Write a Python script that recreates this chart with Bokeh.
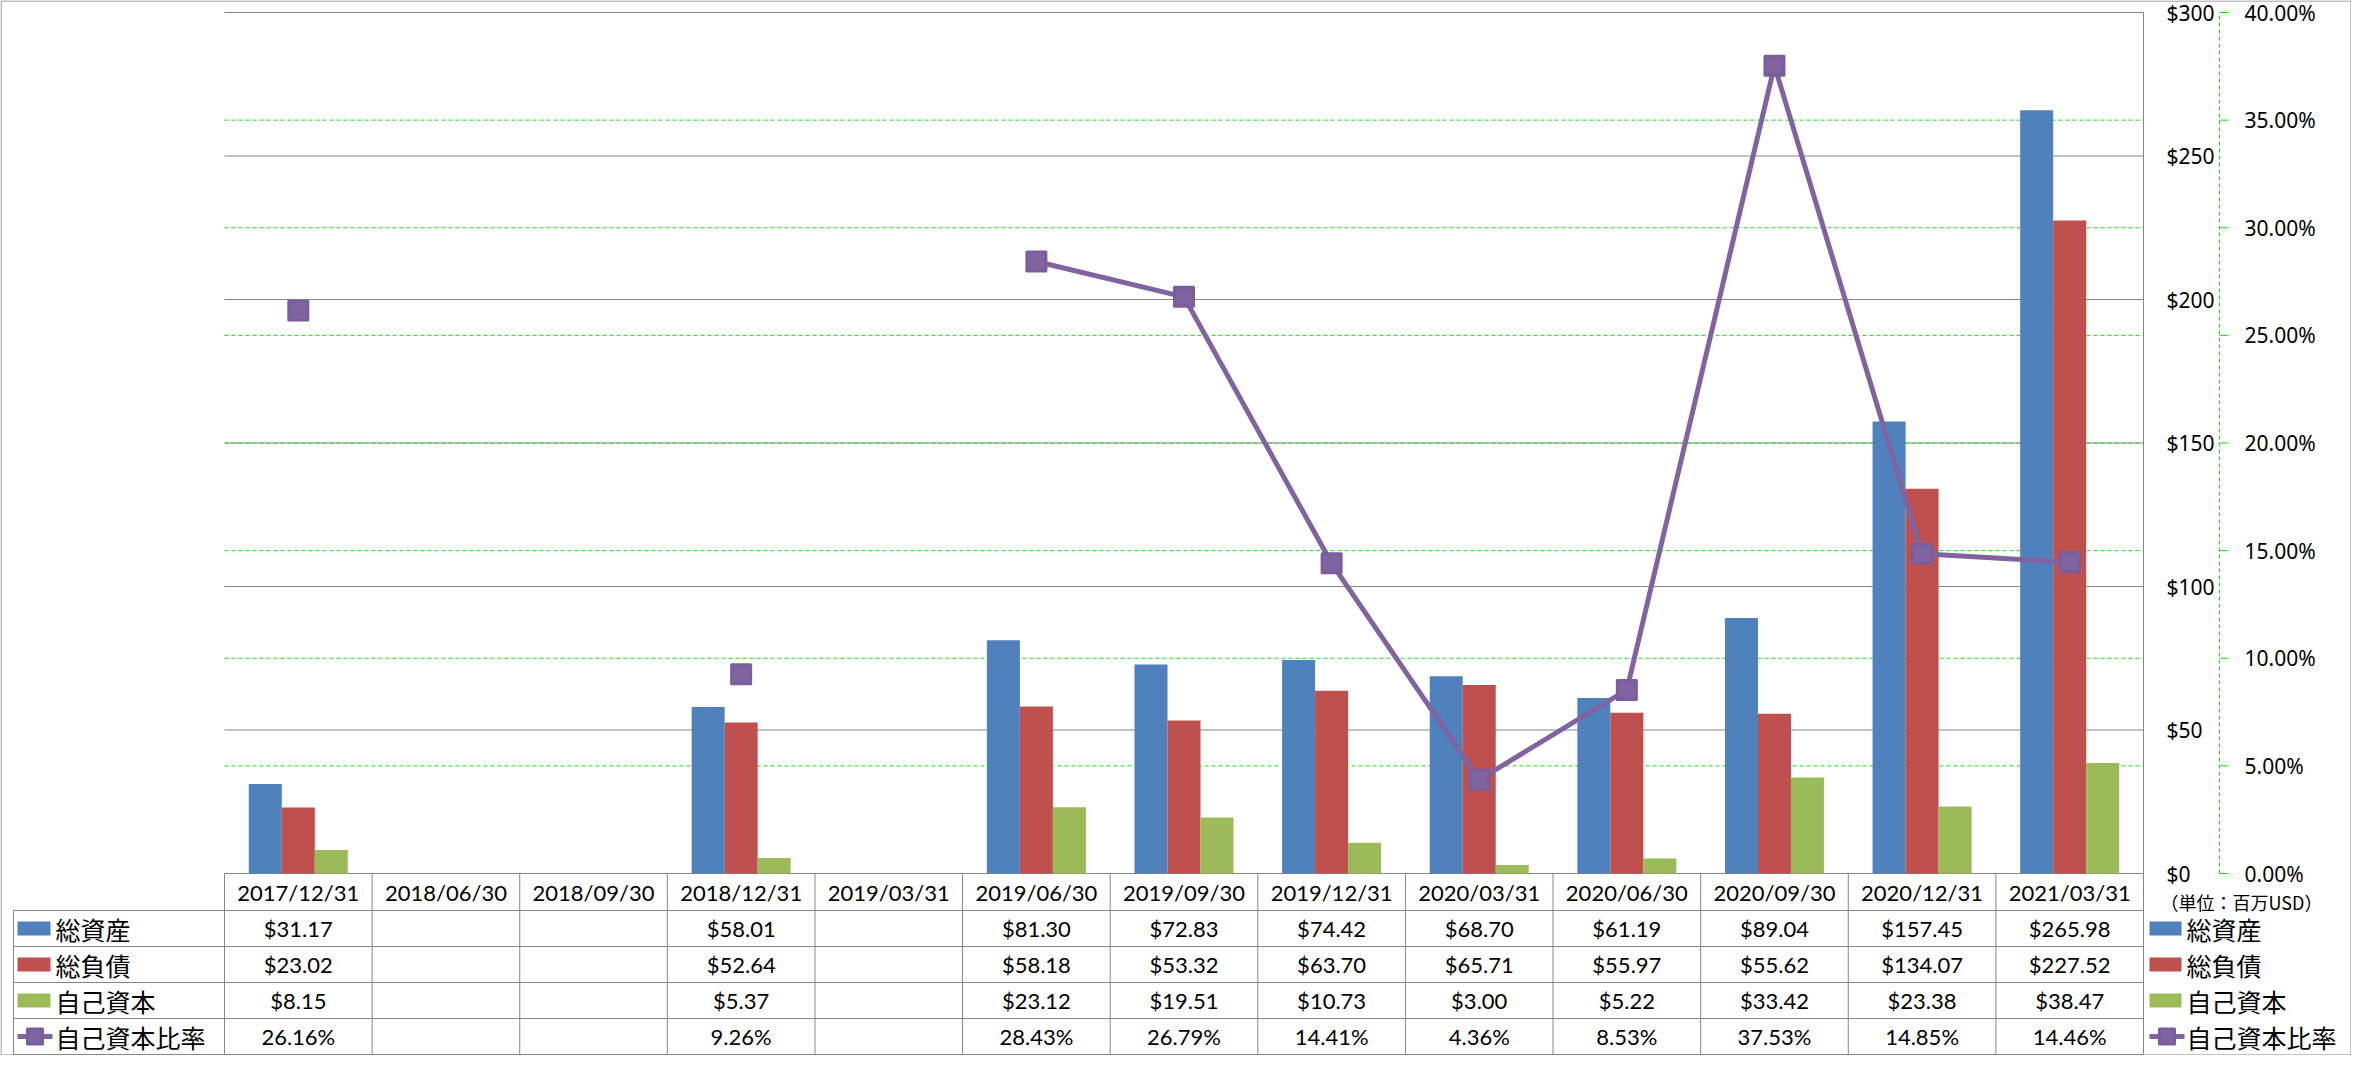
import numpy as np
from bokeh.plotting import figure
from bokeh.models import Range1d, ColumnDataSource
from bokeh.embed import file_html
from bokeh.resources import INLINE
from bokeh.core.properties import value

# ---------------- data ----------------
nan = float("nan")
dates = ["2017/12/31", "2018/06/30", "2018/09/30", "2018/12/31", "2019/03/31",
         "2019/06/30", "2019/09/30", "2019/12/31", "2020/03/31", "2020/06/30",
         "2020/09/30", "2020/12/31", "2021/03/31"]
total_assets = [31.17, nan, nan, 58.01, nan, 81.30, 72.83, 74.42, 68.70, 61.19, 89.04, 157.45, 265.98]
total_liabilities = [23.02, nan, nan, 52.64, nan, 58.18, 53.32, 63.70, 65.71, 55.97, 55.62, 134.07, 227.52]
equity = [8.15, nan, nan, 5.37, nan, 23.12, 19.51, 10.73, 3.00, 5.22, 33.42, 23.38, 38.47]
equity_ratio_pct = [26.16, nan, nan, 9.26, nan, 28.43, 26.79, 14.41, 4.36, 8.53, 37.53, 14.85, 14.46]
series_names = ["総資産", "総負債", "自己資本", "自己資本比率"]
usd_ticks = [0, 50, 100, 150, 200, 250, 300]
usd_tick_labels = ["$0", "$50", "$100", "$150", "$200", "$250", "$300"]
pct_ticks = [0.0, 0.05, 0.10, 0.15, 0.20, 0.25, 0.30, 0.35, 0.40]
pct_tick_labels = ["0.00%", "5.00%", "10.00%", "15.00%", "20.00%", "25.00%", "30.00%", "35.00%", "40.00%"]
pct_grid_ticks = [0.05, 0.10, 0.15, 0.20, 0.25, 0.30, 0.35]
unit_note = "（単位：百万USD）"

# ---------------- style / layout (pixels) ----------------
BLUE, RED, GREEN_BAR, PURPLE = "#4F81BD", "#C0504D", "#9BBB59", "#8064A2"
colors = [BLUE, RED, GREEN_BAR, PURPLE]
MARK_EDGE = "#7a5e9c"
GRID_GREY = "#868686"
LIME = "#14e014"
NUM_FONT = "Lato"
JP_FONT = "Noto Sans CJK JP"
AX_FONT = "Noto Sans"

W, H = 2351, 1055
N = len(dates)
L = 224                 # pixel of the first category boundary
CW = 1919 / N           # pixels per category
Y0 = 873                # pixel of $0 / 0%
PH = 861                # pixels for $0..$300
HH = 37                 # header row height
RH = 36                 # table row height
YMAX, PMAX = 300.0, 0.40
S = PH / YMAX
BAR_W = 0.2236


def X(px):
    return (px - L) / CW


def Yd(py):
    return (Y0 - py) / S


p = figure(width=W, height=H,
           x_range=Range1d(X(0), X(W)), y_range=Range1d(Yd(H), Yd(0)),
           x_axis_location=None, y_axis_location=None,
           output_backend="svg", toolbar_location=None,
           min_border_left=0, min_border_right=0, min_border_top=0, min_border_bottom=0)
p.outline_line_color = None
p.grid.visible = False
p.background_fill_color = "white"
p.border_fill_color = "white"
p.extra_y_ranges = {"pct": Range1d(Yd(H) * PMAX / YMAX, Yd(0) * PMAX / YMAX)}

# ---------------- gridlines ----------------
nU = len(usd_ticks)
p.segment(x0=[0] * nU, y0=usd_ticks, x1=[N] * nU, y1=usd_ticks, line_color=GRID_GREY, line_width=1)
nG = len(pct_grid_ticks)
p.segment(x0=[0] * nG, y0=pct_grid_ticks, x1=[N] * nG, y1=pct_grid_ticks, y_range_name="pct",
          line_color=LIME, line_width=1, line_dash="4 3")

# ---------------- bars, line, markers ----------------
xc = np.arange(N) + 0.5
ratio = np.array(equity_ratio_pct) / 100.0
src = ColumnDataSource(dict(xa=xc - BAR_W, xl=xc, xe=xc + BAR_W,
                            a=total_assets, l=total_liabilities, e=equity,
                            x=xc, r=ratio))
p.vbar(x="xa", top="a", bottom=0, width=BAR_W, source=src, fill_color=BLUE, line_color=None)
p.vbar(x="xl", top="l", bottom=0, width=BAR_W, source=src, fill_color=RED, line_color=None)
p.vbar(x="xe", top="e", bottom=0, width=BAR_W, source=src, fill_color=GREEN_BAR, line_color=None)
p.line(x="x", y="r", source=src, y_range_name="pct", line_color=PURPLE, line_width=5)
p.scatter(x="x", y="r", source=src, y_range_name="pct", marker="square", size=19,
          fill_color=PURPLE, line_color=MARK_EDGE, line_width=3, line_join="round")

# ---------------- right-hand value axes ----------------
p.text(x=[X(2166)] * nU, y=usd_ticks, text=usd_tick_labels, text_font=value(AX_FONT),
       text_font_size="21px", text_align="left", text_baseline="middle", text_color="black")
AXX = X(2219)
p.segment(x0=[AXX], y0=[0], x1=[AXX], y1=[PMAX], y_range_name="pct",
          line_color=LIME, line_width=1, line_dash="4 3")
nP = len(pct_ticks)
p.segment(x0=[AXX] * nP, y0=pct_ticks, x1=[X(2228)] * nP, y1=pct_ticks, y_range_name="pct",
          line_color=LIME, line_width=1)
p.text(x=[X(2244)] * nP, y=pct_ticks, y_range_name="pct", text=pct_tick_labels,
       text_font=value(AX_FONT), text_font_size="21px", text_align="left",
       text_baseline="middle", text_color="black")
p.text(x=[X(2160)], y=[Yd(Y0 + 28)], text=[unit_note], text_font=value(JP_FONT),
       text_font_size="18px", text_align="left", text_baseline="middle", text_color="black")

# ---------------- data table ----------------
T0 = Y0 + HH
row_lines = [Yd(T0 + k * RH) for k in range(5)]
XL = X(13)
p.segment(x0=[XL] * 5, y0=row_lines, x1=[N] * 5, y1=row_lines, line_color=GRID_GREY, line_width=1)
bx = list(range(N + 1))
p.segment(x0=bx, y0=[0] * (N + 1), x1=bx, y1=[row_lines[-1]] * (N + 1),
          line_color=GRID_GREY, line_width=1)
p.segment(x0=[XL], y0=[row_lines[0]], x1=[XL], y1=[row_lines[-1]], line_color=GRID_GREY, line_width=1)
p.segment(x0=[N], y0=[0], x1=[N], y1=[YMAX], line_color=GRID_GREY, line_width=1)

p.text(x=xc, y=[Yd(Y0 + HH / 2)] * N, text=dates, text_font=value(NUM_FONT), text_font_size="22px",
       text_align="center", text_baseline="middle", text_color="black")


def money(v):
    return "" if np.isnan(v) else f"${v:.2f}"


def pctfmt(v):
    return "" if np.isnan(v) else f"{v:.2f}%"


table_rows = [[money(v) for v in total_assets],
              [money(v) for v in total_liabilities],
              [money(v) for v in equity],
              [pctfmt(v) for v in equity_ratio_pct]]
row_mid = [Yd(T0 + (r + 0.5) * RH) for r in range(4)]
for r, texts in enumerate(table_rows):
    p.text(x=xc, y=[row_mid[r]] * N, text=texts, text_font=value(NUM_FONT),
           text_font_size="22px", text_align="center", text_baseline="middle",
           text_color="black")

# legend keys: left column and right side
for key_l, key_r, line_r, txt_x in [(17, 50, 52, 55), (2149, 2181, 2184, 2186)]:
    for r in range(3):
        p.rect(x=[X((key_l + key_r) / 2)], y=[row_mid[r]], width=key_r - key_l, height=14,
               width_units="screen", height_units="screen", fill_color=colors[r], line_color=None)
    p.segment(x0=[X(key_l)], y0=[row_mid[3]], x1=[X(line_r)], y1=[row_mid[3]],
              line_color=PURPLE, line_width=5)
    p.scatter(x=[X((key_l + line_r) / 2)], y=[row_mid[3]], marker="square", size=15,
              fill_color=PURPLE, line_color=MARK_EDGE, line_width=3, line_join="round")
    p.text(x=[X(txt_x)] * 4, y=row_mid, text=series_names,
           text_font=value(JP_FONT), text_font_size="25px", text_align="left",
           text_baseline="middle", text_color="black")

# outer chart border
bx0, bx1, by0, by1 = X(0.5), X(W - 0.5), Yd(0.5), Yd(H - 0.5)
p.segment(x0=[bx0, bx0, bx0, bx1], y0=[by0, by1, by0, by0],
          x1=[bx1, bx1, bx0, bx1], y1=[by0, by1, by1, by1], line_color=GRID_GREY, line_width=1)

open("out.html", "w").write(file_html(p, INLINE))
